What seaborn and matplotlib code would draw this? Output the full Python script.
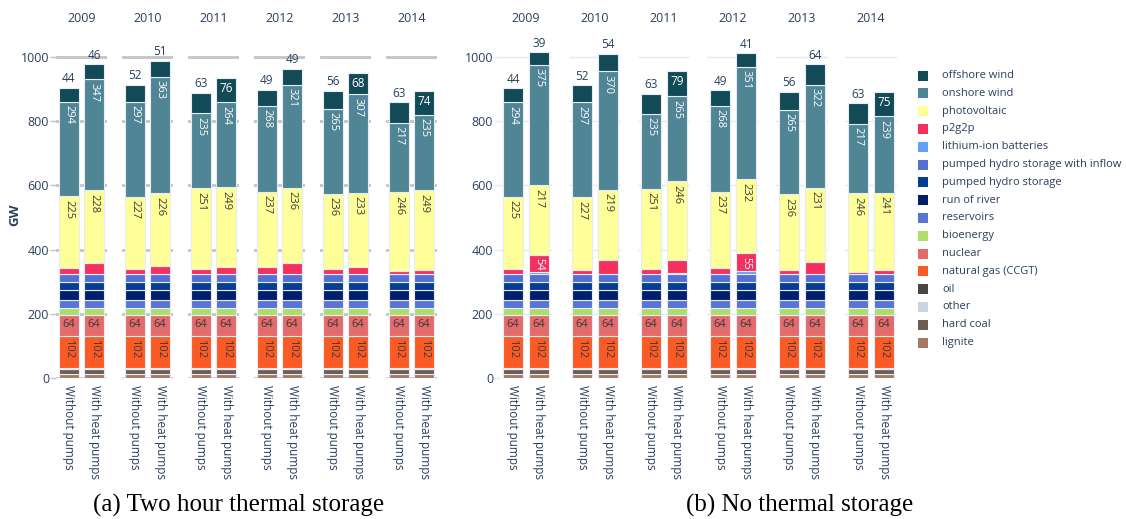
import pandas as pd
import seaborn as sns
import matplotlib.pyplot as plt
from matplotlib.patches import Rectangle

# ---- data (GW) ----
years = [2009, 2010, 2011, 2012, 2013, 2014]
cases = ["Without pumps", "With heat pumps"]

techs = ["lignite", "hard coal", "other", "oil", "natural gas (CCGT)", "nuclear",
         "bioenergy", "reservoirs", "run of river", "pumped hydro storage",
         "pumped hydro storage with inflow", "lithium-ion batteries", "p2g2p",
         "photovoltaic", "onshore wind", "offshore wind"]
colors = ["#a57863", "#6c5d53", "#c9d6de", "#474642", "#fb5a24", "#e36b6b",
          "#acde6c", "#5a73d6", "#021f6b", "#043c96",
          "#5470d4", "#65a0f8", "#f5305e",
          "#ffff99", "#508595", "#124a57"]

# capacities that are the same in every run
lignite = [12] * 12
hard_coal = [15] * 12
other = [1] * 12
oil = [1] * 12
gas = [102] * 12
nuclear = [64] * 12
bioenergy = [24] * 12
reservoirs = [25] * 12
run_of_river = [31] * 12
phs = [23] * 12
phs_inflow = [25] * 12

# order: 2009 without, 2009 with, 2010 without, ...
a_lithium = [0, 0, 0, 0, 0, 0, 0, 0, 0, 0, 0, 0]
a_p2g2p = [19, 34, 15, 27, 17, 23, 21, 34, 15, 21, 10, 13]
a_pv = [225, 228, 227, 226, 251, 249, 237, 236, 236, 233, 246, 249]
a_onshore = [294, 347, 297, 363, 235, 264, 268, 321, 265, 307, 217, 235]
a_offshore = [44, 46, 52, 51, 63, 76, 49, 49, 56, 68, 63, 74]

b_lithium = [0, 7, 0, 0, 0, 4, 0, 10, 0, 0, 0, 0]
b_p2g2p = [17, 54, 13, 44, 15, 40, 20, 55, 13, 38, 7, 13]
b_pv = [225, 217, 227, 219, 251, 246, 237, 232, 236, 231, 246, 241]
b_onshore = [294, 375, 297, 370, 235, 265, 268, 351, 265, 322, 217, 239]
b_offshore = [44, 39, 52, 54, 63, 79, 49, 41, 56, 64, 63, 75]


def panel_frame(lithium, p2g2p, pv, onshore, offshore):
    cols = [lignite, hard_coal, other, oil, gas, nuclear, bioenergy, reservoirs,
            run_of_river, phs, phs_inflow, lithium, p2g2p, pv, onshore, offshore]
    idx = pd.MultiIndex.from_product([years, cases], names=["year", "case"])
    return pd.DataFrame(dict(zip(techs, cols)), index=idx)


panels = [
    (panel_frame(a_lithium, a_p2g2p, a_pv, a_onshore, a_offshore),
     [56, 122, 188, 254, 320, 386], 51, "#c4c4c4", 2.0, "(a) Two hour thermal storage", 239),
    (panel_frame(b_lithium, b_p2g2p, b_pv, b_onshore, b_offshore),
     [500, 569, 638, 707, 776, 845], 52, "#e6e8f2", 1.0, "(b) No thermal storage", 800),
]

# ---- layout ----
W, H = 1126, 519
ZERO_PX = 377.7
PX_PER_GW = 0.3204
YMAX = 1060
TXT = "#2a3f5f"

sns.set_theme(style="white")
plt.rcParams["font.family"] = ["Open Sans", "DejaVu Sans"]

fig = plt.figure(figsize=(W / 100, H / 100), dpi=100)


def label(ax, x, y, s, color, rot=0, va="center", dy=0, size=8):
    ax.annotate(s, (x, y), xytext=(0, dy), textcoords="offset points",
                ha="center", va=va, rotation=rot, color=color, fontsize=size,
                annotation_clip=False)


for df, lefts, width, gcol, glw, caption, cap_x in panels:
    for i, (year, left) in enumerate(zip(years, lefts)):
        ax = fig.add_axes([left / W, (H - ZERO_PX) / H, width / W, YMAX * PX_PER_GW / H])
        sub = df.loc[year]
        xs = range(len(cases))
        bottom = pd.Series(0.0, index=sub.index)
        for tech, col in zip(techs, colors):
            vals = sub[tech]
            ax.bar(xs, vals, bottom=bottom, width=0.8, color=col,
                   edgecolor="#e5ecf6", linewidth=0.8, zorder=2)
            for x, (v, b) in enumerate(zip(vals, bottom)):
                top = b + v
                if tech in ("onshore wind", "photovoltaic", "natural gas (CCGT)"):
                    c = "white" if tech == "onshore wind" else "#3a3a3a"
                    label(ax, x, top, str(v), c, rot=270, va="top", dy=-2.5)
                elif tech == "nuclear":
                    label(ax, x, b + v / 2, str(v), "#3a3a3a", dy=1)
                elif tech == "p2g2p" and v >= 50:
                    label(ax, x, top, str(v), "white", rot=270, va="top", dy=-2.5)
                elif tech == "offshore wind":
                    if v >= 66:
                        label(ax, x, top, str(v), "white", va="top", dy=-3, size=8.5)
                    else:
                        label(ax, x, top, str(v), TXT, va="bottom", dy=2, size=8.5)
            bottom = bottom + vals

        ax.set_xlim(-0.5, 1.5)
        ax.set_ylim(0, YMAX)
        ax.set_yticks([0, 200, 400, 600, 800, 1000])
        ax.grid(axis="y", color=gcol, linewidth=glw, zorder=0)
        ax.set_axisbelow(True)
        sns.despine(ax=ax, left=True, bottom=True)
        ax.set_xticks(list(xs))
        ax.set_xticklabels(cases, rotation=270, fontsize=8.5, color=TXT)
        ax.tick_params(axis="x", length=0, pad=5)
        if i == 0:
            ax.tick_params(axis="y", left=True, length=4, color=gcol, width=1,
                           labelsize=9, labelcolor=TXT, pad=1)
        else:
            ax.tick_params(axis="y", left=False, labelleft=False)
        ax.set_xlabel("")
        ax.set_ylabel("")
        fig.text((left + width / 2) / W, 1 - 18 / H, str(year), ha="center",
                 va="center", fontsize=9, color=TXT)

    fig.text(cap_x / W, 1 - 505 / H, caption, ha="center", va="center",
             fontsize=18, family="Liberation Serif", color="black")

fig.text(15 / W, 1 - 215 / H, "GW", rotation=90, ha="center", va="center",
         fontsize=9.5, fontweight="bold", color=TXT)

# legend, top entry is the top of the stack
for k, (tech, col) in enumerate(zip(techs[::-1], colors[::-1])):
    yc = 75.5 + k * 17.8
    fig.add_artist(Rectangle((918 / W, 1 - (yc + 5) / H), 10 / W, 10 / H,
                             transform=fig.transFigure, color=col, lw=0))
    fig.text(942 / W, 1 - yc / H, tech, ha="left", va="center",
             fontsize=8.0, color=TXT)

fig.savefig("out.png", dpi=100, facecolor="white")
